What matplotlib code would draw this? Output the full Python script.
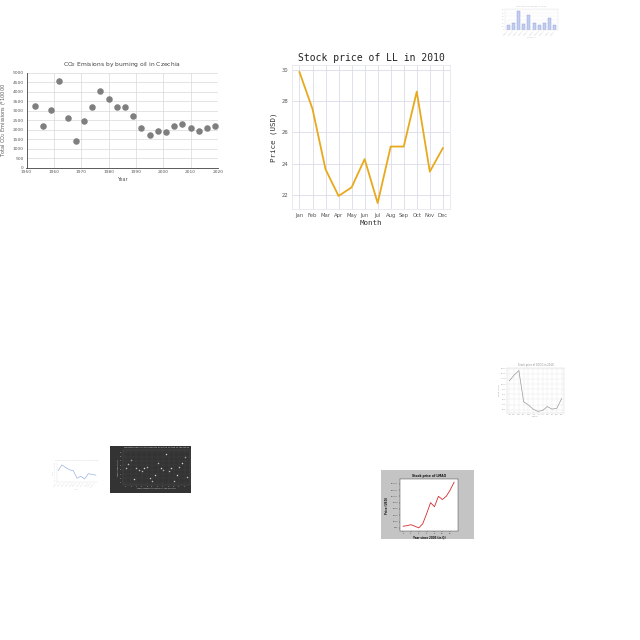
import numpy as np
import matplotlib.pyplot as plt
from matplotlib.patches import Rectangle

# CO2 emissions (Czechia), every 3 years
co2_years = [1953, 1956, 1959, 1962, 1965, 1968, 1971, 1974, 1977, 1980, 1983, 1986,
             1989, 1992, 1995, 1998, 2001, 2004, 2007, 2010, 2013, 2016, 2019]
co2_values = [3230, 2220, 3030, 4540, 2640, 1400, 2450, 3200, 4050, 3640, 3210, 3210,
              2700, 2110, 1740, 1920, 1900, 2180, 2290, 2110, 1940, 2110, 2220]

# big stock chart
months = ['Jan', 'Feb', 'Mar', 'Apr', 'May', 'Jun', 'Jul', 'Aug', 'Sep', 'Oct', 'Nov', 'Dec']
ll_price = [29.85, 27.5, 23.65, 21.95, 22.5, 24.3, 21.5, 25.1, 25.1, 28.6, 23.5, 25.0]

# small thumbnails
bar_labels = ['a', 'b', 'c', 'd', 'e', 'f', 'g', 'h', 'i', 'j']
bar_values = [14, 22, 57, 17, 44, 22, 14, 22, 34, 14]

gray_price = [110, 128, 142, 45, 35, 22, 15, 18, 30, 22, 25, 55]

blue_values = [60, 75, 68, 62, 60, 40, 45, 38, 52, 50, 48]

dark_x = np.arange(24)
dark_y = [53, 63, 73, 28, 53, 50, 47, 53, 57, 30, 25, 37, 65, 53, 50, 87, 47, 55, 25, 37, 57, 65, 80, 33]

red_q = [0, 1, 2, 3, 4, 5, 6, 7, 8, 9, 10, 11, 12, 13]
red_price = [5, 7, 10, 5, 0, 13, 45, 80, 67, 100, 90, 100, 120, 145]

W = 640.0


def box(x0, y0, x1, y1):
    return [x0 / W, 1 - y1 / W, (x1 - x0) / W, (y1 - y0) / W]


fig = plt.figure(figsize=(6.4, 6.4), dpi=100)

# ---- CO2 scatter ----
ax = fig.add_axes(box(26.5, 72.7, 218, 167.7))
ax.scatter(co2_years, co2_values, s=22, color='#7f7f7f', zorder=3, linewidths=0)
ax.set_xlim(1950, 2020)
ax.set_ylim(0, 5000)
ax.set_xticks(range(1950, 2021, 10))
ax.set_yticks(range(0, 5001, 500))
ax.grid(True, color='#d9d9d9', lw=0.5)
ax.set_axisbelow(True)
for s in ['top', 'right']:
    ax.spines[s].set_visible(False)
for s in ['left', 'bottom']:
    ax.spines[s].set_color('#404040')
    ax.spines[s].set_linewidth(0.6)
ax.tick_params(labelsize=3.2, colors='#595959', length=0, pad=2)
ax.set_title('CO$_2$ Emisions by burning oil in Czechia', fontsize=4.3, color='#404040', pad=5)
ax.set_xlabel('Year', fontsize=3.6, color='#595959', labelpad=2)
ax.set_ylabel('Total CO$_2$ Emissions (*10000', fontsize=3.6, color='#595959', labelpad=3)

# ---- big stock line ----
ax = fig.add_axes(box(292.3, 65, 450, 209.3))
ax.plot(range(12), ll_price, color='#e8a91c', lw=1.3)
ax.set_xlim(-0.55, 11.55)
ax.set_ylim(21.1, 30.3)
ax.set_xticks(range(12))
ax.set_xticklabels(months)
ax.set_yticks([22, 24, 26, 28, 30])
ax.grid(True, color='#dcdce8', lw=0.6)
for s in ax.spines.values():
    s.set_color('#e6e6ee')
    s.set_linewidth(0.6)
ax.tick_params(labelsize=3.8, colors='#555555', length=0, pad=3)
ax.set_title('Stock price of LL in 2010', fontsize=7, family='DejaVu Sans Mono', color='#222222', pad=3)
ax.set_xlabel('Month', fontsize=5.4, family='DejaVu Sans Mono', color='#333333', labelpad=1)
ax.set_ylabel('Price (USD)', fontsize=5.4, family='DejaVu Sans Mono', color='#333333', labelpad=3)

# ---- tiny bar chart (top right) ----
ax = fig.add_axes(box(505, 9, 558, 30))
ax.bar(range(10), bar_values, color='#c3cdf0', edgecolor='#8d9fd8', lw=0.3, width=0.6)
ax.set_xlim(-0.6, 9.6)
ax.set_ylim(0, 62)
ax.set_xticks(range(10))
ax.set_xticklabels(['label ' + b for b in bar_labels], rotation=45, ha='right')
ax.set_yticks(range(0, 61, 10))
ax.grid(axis='y', color='#eeeeee', lw=0.3)
ax.set_axisbelow(True)
for s in ax.spines.values():
    s.set_color('#e4e4e4')
    s.set_linewidth(0.3)
ax.tick_params(labelsize=1.4, colors='#c8c8c8', length=0, pad=0.6)
ax.set_title('Bar chart of values in 2010', fontsize=1.6, color='#bbbbbb', pad=1.5)
ax.set_xlabel('Category', fontsize=1.5, color='#c8c8c8', labelpad=0.5)

# ---- tiny gray stock line (right middle) ----
ax = fig.add_axes(box(507, 368, 564, 413))
ax.plot(range(12), gray_price, color='#9a9a9a', lw=0.5)
ax.set_xlim(-0.5, 11.5)
ax.set_ylim(10, 150)
ax.set_xticks(range(12))
ax.set_xticklabels(months)
ax.set_yticks(range(20, 151, 16))
ax.set_yticklabels(['%d.0' % v for v in range(20, 151, 16)])
ax.grid(True, color='#e6e6e6', lw=0.3)
for s in ax.spines.values():
    s.set_color('#d0d0d0')
    s.set_linewidth(0.3)
ax.tick_params(labelsize=1.4, colors='#9a9a9a', length=0, pad=0.6)
ax.set_title('Stock price of GOOG in 2010', fontsize=1.8, color='#888888', pad=1.5)
ax.set_xlabel('Month', fontsize=1.5, color='#999999', labelpad=0.5)
ax.set_ylabel('Price (USD)', fontsize=1.5, color='#999999', labelpad=0.5)

# ---- tiny blue line (bottom left) ----
ax = fig.add_axes(box(57, 463, 97, 482))
ax.plot(range(len(blue_values)), blue_values, color='#9bb3e0', lw=0.5)
ax.set_xlim(-0.3, len(blue_values) - 0.7)
ax.set_ylim(30, 80)
ax.set_xticks(range(len(blue_values)))
ax.set_xticklabels(['item %d' % i for i in range(len(blue_values))], rotation=45, ha='right')
ax.set_yticks(range(30, 81, 5))
for s in ['top', 'right']:
    ax.spines[s].set_visible(False)
for s in ['left', 'bottom']:
    ax.spines[s].set_color('#e0e0e0')
    ax.spines[s].set_linewidth(0.3)
ax.tick_params(labelsize=1.2, colors='#d0d0d0', length=0, pad=0.5)
ax.set_title('Values of series over the whole period of time', fontsize=1.4, color='#cccccc', pad=1.5)
ax.set_xlabel('Item', fontsize=1.3, color='#d0d0d0', labelpad=0.4)
ax.set_ylabel('Value', fontsize=1.3, color='#d0d0d0', labelpad=0.4)

# ---- tiny dark scatter ----
fig.patches.append(Rectangle((110 / W, 1 - 493 / W), 81 / W, 47 / W, transform=fig.transFigure,
                             facecolor='#333333', edgecolor='none', zorder=-5))
ax = fig.add_axes(box(123, 450, 190, 485))
ax.set_facecolor('#333333')
ax.scatter(dark_x, dark_y, s=1.2, color='#d8d8d8', linewidths=0)
ax.set_xlim(-1, 24)
ax.set_ylim(15, 95)
ax.set_xticks(range(0, 24, 2))
ax.set_yticks(range(20, 91, 10))
ax.grid(True, color='#444444', lw=0.3)
for s in ax.spines.values():
    s.set_color('#555555')
    s.set_linewidth(0.3)
ax.tick_params(labelsize=1.3, colors='#bbbbbb', length=0, pad=0.6)
ax.set_title('Measurements of the process over the course of the week', fontsize=1.6, color='#dddddd', pad=1.2)
ax.set_xlabel('Measurement number of the sample', fontsize=1.5, color='#cccccc', labelpad=0.6)
ax.set_ylabel('Measured value', fontsize=1.5, color='#cccccc', labelpad=0.6)

# ---- tiny red line with gray background ----
fig.patches.append(Rectangle((381 / W, 1 - 539 / W), 93 / W, 69 / W, transform=fig.transFigure,
                             facecolor='#c4c4c4', edgecolor='none', zorder=-5))
ax = fig.add_axes(box(400, 479, 458, 531))
ax.plot(red_q, red_price, color='#d22c2c', lw=0.6)
ax.set_xlim(-0.8, 14)
ax.set_ylim(-10, 155)
ax.set_xticks(range(0, 14, 2))
ax.set_yticks(range(0, 151, 20))
ax.set_yticklabels(['%d.00' % v for v in range(0, 151, 20)])
for s in ax.spines.values():
    s.set_color('#333333')
    s.set_linewidth(0.3)
ax.tick_params(labelsize=1.4, colors='#333333', length=0.8, width=0.3, pad=0.6)
ax.set_title('Stock price of LMAO', fontsize=2.2, weight='bold', color='#111111', pad=1.5)
ax.set_xlabel('Year since 2005 (in Q)', fontsize=1.9, weight='bold', color='#111111', labelpad=1)
ax.set_ylabel('Price (USD)', fontsize=1.9, weight='bold', color='#111111', labelpad=1.5)

fig.savefig('out.png', dpi=100, facecolor='white')
